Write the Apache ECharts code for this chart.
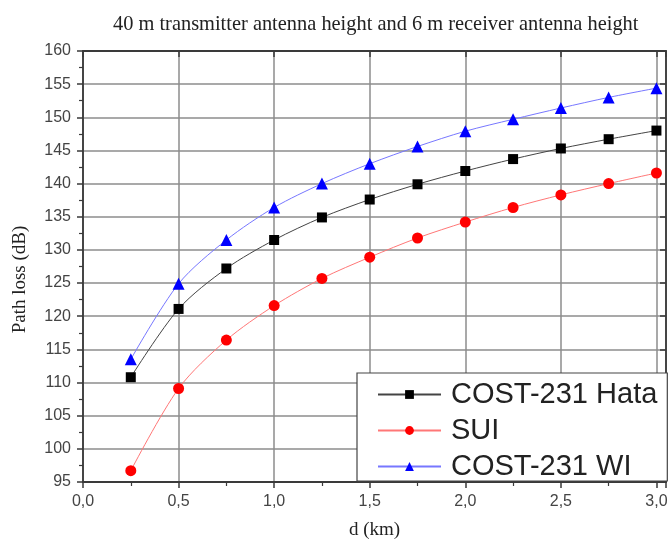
<!DOCTYPE html>
<html><head><meta charset="utf-8">
<script src="https://cdn.jsdelivr.net/npm/echarts@6/dist/echarts.min.js"></script>
<style>html,body{margin:0;padding:0;background:#fff}#c{width:671px;height:545px}</style>
</head><body><div id="c"></div>
<script>
const titleText = '40 m transmitter antenna height and 6 m receiver antenna height';
const xName = 'd (km)';
const yName = 'Path loss (dB)';
const seriesNames = ['COST-231 Hata', 'SUI', 'COST-231 WI'];
const distances = [0.25, 0.5, 0.75, 1.0, 1.25, 1.5, 1.75, 2.0, 2.25, 2.5, 2.75, 3.0];
const hata = [110.8, 121.1, 127.2, 131.5, 134.9, 137.6, 139.9, 141.9, 143.7, 145.3, 146.7, 148.0];
const sui  = [96.7, 109.1, 116.4, 121.6, 125.7, 128.9, 131.8, 134.2, 136.4, 138.3, 140.0, 141.6];
const wi   = [113.5, 124.9, 131.5, 136.4, 140.0, 143.0, 145.6, 147.9, 149.7, 151.4, 153.0, 154.4];

const pairs = arr => distances.map((d, i) => [d, arr[i]]);
const gridColor = '#8c8c8c';
const frameColor = '#3a3a3a';
const labelFont = {fontFamily: 'Liberation Sans, Arial, sans-serif', fontSize: 16, color: '#444'};
const serif = 'Liberation Serif, Times New Roman, serif';

const xFmt = v => Math.abs(v * 2 - Math.round(v * 2)) < 1e-6 ? v.toFixed(1).replace('.', ',') : '';
const yFmt = v => Math.abs(v / 5 - Math.round(v / 5)) < 1e-6 ? String(Math.round(v)) : '';

const chart = echarts.init(document.getElementById('c'), null, {renderer: 'canvas'});
chart.setOption({
  animation: false,
  backgroundColor: '#fff',
  title: {
    text: titleText, left: 108, top: 10,
    textStyle: {fontFamily: serif, fontSize: 20.4, fontWeight: 'normal', color: '#222'}
  },
  grid: {left: 83, right: 5, top: 51, bottom: 63, containLabel: false},
  legend: {
    orient: 'vertical', left: 357, top: 373,
    padding: [7, 10, 0, 20],
    itemGap: 7, itemWidth: 63, itemHeight: 11,
    backgroundColor: '#fff', borderColor: '#444', borderWidth: 1.2,
    textStyle: {fontFamily: 'Liberation Sans, Arial, sans-serif', fontSize: 29, color: '#222', lineHeight: 29, padding: [0, 0, 0, 5]},
    data: seriesNames
  },
  xAxis: [{
    type: 'value', position: 'bottom', min: 0, max: 3.05, interval: 0.5,
    name: xName, nameLocation: 'middle', nameGap: 39,
    nameTextStyle: {fontFamily: serif, fontSize: 19, color: '#222'},
    axisLine: {show: true, onZero: false, lineStyle: {color: frameColor, width: 1.8}},
    axisTick: {show: true, inside: false, length: 6, lineStyle: {color: frameColor, width: 1.5}},
    minorTick: {show: true, splitNumber: 2, length: 4, lineStyle: {color: frameColor, width: 1.2}},
    splitLine: {show: true, lineStyle: {color: gridColor, width: 1.5}},
    axisLabel: Object.assign({formatter: xFmt, margin: 12}, labelFont)
  }, {
    type: 'value', position: 'top', min: 0, max: 3.05, interval: 0.5,
    axisLine: {show: true, onZero: false, lineStyle: {color: frameColor, width: 1.8}},
    axisTick: {show: true, inside: true, length: 6, lineStyle: {color: frameColor, width: 1.5}},
    minorTick: {show: false},
    splitLine: {show: false},
    axisLabel: {show: false}
  }],
  yAxis: [{
    type: 'value', position: 'left', min: 95, max: 160, interval: 5,
    name: yName, nameLocation: 'middle', nameGap: 53, nameRotate: 90,
    nameTextStyle: {fontFamily: serif, fontSize: 19, color: '#222', padding: [0, 26, 0, 0]},
    axisLine: {show: true, onZero: false, lineStyle: {color: frameColor, width: 1.8}},
    axisTick: {show: true, inside: false, length: 6, lineStyle: {color: frameColor, width: 1.5}},
    minorTick: {show: true, splitNumber: 2, length: 4, lineStyle: {color: frameColor, width: 1.2}},
    splitLine: {show: true, lineStyle: {color: gridColor, width: 1.5}},
    axisLabel: Object.assign({formatter: yFmt, margin: 12}, labelFont)
  }, {
    type: 'value', position: 'right', min: 95, max: 160, interval: 5,
    axisLine: {show: true, onZero: false, lineStyle: {color: frameColor, width: 1.8}},
    axisTick: {show: true, inside: true, length: 6, lineStyle: {color: frameColor, width: 1.5}},
    minorTick: {show: false},
    splitLine: {show: false},
    axisLabel: {show: false}
  }],
  series: [{
    name: seriesNames[0], type: 'line', data: pairs(hata), smooth: 0.3,
    symbol: 'rect', symbolSize: 10,
    itemStyle: {color: '#000'},
    lineStyle: {color: '#444', width: 1}
  }, {
    name: seriesNames[1], type: 'line', data: pairs(sui), smooth: 0.3,
    symbol: 'circle', symbolSize: 11,
    itemStyle: {color: '#ff0000'},
    lineStyle: {color: '#ff7777', width: 1}
  }, {
    name: seriesNames[2], type: 'line', data: pairs(wi), smooth: 0.3,
    symbol: 'triangle', symbolSize: 12,
    itemStyle: {color: '#0000ff'},
    lineStyle: {color: '#7777ff', width: 1}
  }]
});
</script></body></html>
